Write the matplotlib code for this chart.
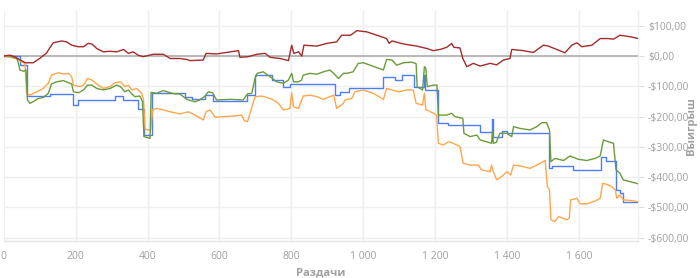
import matplotlib
matplotlib.use("Agg")
import matplotlib.pyplot as plt
from matplotlib.ticker import FuncFormatter

# hands played vs. winnings, four series
red_h = [0, 18, 30, 60, 82, 101, 119, 133, 138, 161, 175, 189, 208, 222, 235, 245, 259, 277, 296, 314,
         333, 347, 360, 374, 388, 416, 444, 463, 490, 509, 518, 555, 563, 592, 630, 653, 657, 680, 704, 727,
         741, 769, 792, 801, 807, 820, 829, 835, 871, 899, 926, 940, 965, 982, 1010, 1038, 1065, 1072, 1080, 1112,
         1149, 1177, 1195, 1214, 1232, 1246, 1252, 1269, 1277, 1288, 1306, 1325, 1353, 1371, 1390, 1408, 1413, 1445, 1473, 1501,
         1515, 1538, 1561, 1580, 1594, 1608, 1636, 1659, 1680, 1696, 1714, 1742, 1765]
red_v = [0, 3, -2, -22, -22, -7, 10, 36, 44, 50, 47, 36, 31, 31, 42, 40, 25, 14, 16, 14,
         22, 9, 14, 3, -2, 6, 6, -8, -8, -11, -15, -13, 9, 7, 14, 18, -4, -2, 6, 9,
         -4, -8, -15, 36, 9, 14, 0, 36, 33, 42, 47, 69, 69, 84, 80, 69, 58, 42, 50, 40,
         33, 25, 18, 22, 29, 42, 29, 27, -8, -35, -24, -33, -24, -29, -13, -8, 22, 18, 12, 36,
         33, 22, 11, 36, 44, 31, 36, 58, 58, 56, 69, 64, 58]

green_h = [0, 12, 36, 40, 45, 55, 62, 66, 73, 83, 96, 110, 124, 133, 147, 166, 180, 189, 194, 208,
           222, 233, 245, 259, 277, 296, 314, 325, 337, 347, 356, 365, 379, 386, 390, 407, 410, 425, 444, 463,
           476, 490, 509, 532, 545, 560, 569, 581, 592, 630, 666, 678, 690, 699, 705, 722, 741, 759, 778, 792,
           801, 806, 820, 828, 833, 852, 871, 889, 907, 918, 931, 945, 954, 972, 986, 1000, 1019, 1056, 1065, 1080,
           1093, 1112, 1135, 1147, 1150, 1165, 1170, 1174, 1178, 1195, 1205, 1209, 1232, 1246, 1255, 1277, 1280, 1297, 1316, 1325,
           1343, 1357, 1359, 1362, 1370, 1380, 1399, 1413, 1418, 1436, 1464, 1483, 1497, 1510, 1518, 1522, 1533, 1557, 1575, 1598,
           1622, 1645, 1659, 1668, 1682, 1696, 1703, 1714, 1723, 1742, 1765]
green_v = [0, 2, -8, -19, -46, -50, -46, -145, -156, -150, -140, -137, -123, -92, -85, -81, -88, -92, -118, -121,
           -112, -96, -96, -107, -112, -107, -96, -101, -118, -112, -125, -134, -132, -151, -266, -272, -120, -123, -114, -121,
           -125, -125, -143, -151, -145, -132, -118, -121, -145, -143, -145, -125, -123, -74, -57, -52, -68, -85, -90, -79,
           -57, -85, -85, -80, -63, -57, -60, -52, -46, -57, -74, -57, -57, -52, -24, -22, -30, -46, -11, -13,
           -30, -22, -20, -25, -101, -112, -35, -40, -101, -96, -96, -195, -195, -189, -200, -206, -255, -266, -261, -277,
           -283, -288, -250, -288, -285, -255, -255, -266, -233, -239, -244, -233, -220, -220, -244, -349, -338, -345, -330, -341,
           -345, -338, -330, -277, -283, -288, -376, -387, -409, -415, -422]

orange_h = [0, 36, 50, 59, 64, 73, 92, 110, 124, 133, 152, 166, 180, 189, 194, 212, 222, 233, 245, 263,
            277, 296, 310, 325, 337, 347, 356, 370, 384, 389, 393, 409, 414, 425, 444, 463, 490, 514, 532, 555,
            563, 574, 588, 611, 639, 662, 669, 678, 685, 699, 718, 736, 750, 764, 778, 796, 801, 806, 820, 833,
            852, 871, 889, 907, 918, 926, 945, 949, 968, 977, 1000, 1028, 1056, 1065, 1080, 1098, 1121, 1139, 1147, 1165,
            1170, 1174, 1178, 1195, 1204, 1209, 1223, 1237, 1250, 1269, 1278, 1297, 1320, 1329, 1353, 1357, 1362, 1371, 1385, 1399,
            1410, 1418, 1436, 1464, 1483, 1506, 1512, 1518, 1522, 1533, 1543, 1566, 1573, 1577, 1594, 1603, 1622, 1645, 1659, 1666,
            1677, 1691, 1701, 1705, 1714, 1723, 1742, 1765]
orange_v = [0, -8, -19, -24, -123, -129, -118, -107, -90, -63, -55, -59, -57, -68, -96, -101, -96, -74, -79, -96,
            -107, -101, -88, -85, -101, -96, -112, -107, -123, -145, -242, -245, -178, -173, -178, -184, -191, -184, -195, -211,
            -184, -178, -202, -200, -198, -195, -213, -217, -189, -134, -132, -138, -145, -156, -178, -173, -121, -167, -173, -132,
            -129, -134, -143, -134, -129, -173, -156, -145, -140, -118, -112, -123, -143, -107, -112, -118, -112, -112, -156, -162,
            -123, -178, -178, -189, -195, -288, -294, -283, -288, -299, -354, -360, -360, -376, -382, -360, -382, -409, -398, -382,
            -393, -360, -363, -371, -360, -345, -431, -442, -541, -547, -530, -541, -536, -475, -470, -488, -488, -479, -470, -420,
            -424, -431, -442, -470, -459, -475, -477, -481]

# blue line is stepped: value holds until the next hand
blue_h = [0, 46, 64, 129, 192, 208, 310, 333, 374, 389, 412, 504, 525, 560, 583, 676, 699, 745, 778, 796,
          921, 935, 960, 1056, 1087, 1107, 1140, 1168, 1172, 1209, 1237, 1325, 1357, 1360, 1385, 1400, 1518, 1525, 1584, 1662,
          1675, 1704, 1715, 1723, 1765]
blue_v = [0, -30, -132, -125, -162, -145, -132, -145, -176, -261, -121, -136, -143, -129, -149, -129, -64, -79, -101, -92,
          -129, -118, -107, -68, -79, -63, -101, -63, -112, -220, -228, -250, -208, -266, -248, -255, -371, -363, -376, -334,
          -345, -442, -453, -481, -481]

x_ticks = [0, 200, 400, 600, 800, 1000, 1200, 1400, 1600]
y_ticks = [100, 0, -100, -200, -300, -400, -500, -600]

TXT = "#a0a0a0"
GRID = "#efefef"

plt.rcParams["font.family"] = ["Open Sans", "DejaVu Sans"]

W, H = 700, 278
fig = plt.figure(figsize=(W / 100, H / 100), dpi=100)
ax = fig.add_axes([3.7 / W, 1 - 241 / H, (638.3 - 3.7) / W, (241 - 11) / H])

ax.axhline(0, color="#b8b8b8", lw=1.4, zorder=1)
lw = 1.0
ax.plot(blue_h, blue_v, color="#4d7ef7", lw=lw, drawstyle="steps-post", zorder=3)
ax.plot(orange_h, orange_v, color="#ffa64d", lw=lw, zorder=3)
ax.plot(green_h, green_v, color="#6a9b3a", lw=lw, zorder=4)
ax.plot(red_h, red_v, color="#a52a2a", lw=lw, zorder=5)

ax.set_xlim(0, 1765)
ax.set_ylim(-611, 149)
ax.set_xticks(x_ticks)
ax.set_yticks(y_ticks)


def fmt_x(v, _):
    return f"{int(v):,}".replace(",", " ")


def fmt_y(v, _):
    s = f"${abs(v):.2f}".replace(".", ",")
    return "-" + s if v < 0 else s


ax.xaxis.set_major_formatter(FuncFormatter(fmt_x))
ax.yaxis.set_major_formatter(FuncFormatter(fmt_y))
ax.yaxis.tick_right()
ax.tick_params(axis="y", length=4, color="#dddddd", pad=3, labelsize=7.5, labelcolor=TXT)
ax.tick_params(axis="x", length=0, pad=7, labelsize=7.5, labelcolor=TXT)
ax.grid(True, color=GRID, lw=1.0, zorder=0)
ax.set_axisbelow(True)
for name in ("left", "top"):
    ax.spines[name].set_visible(False)
ax.spines["right"].set_color(GRID)
ax.spines["bottom"].set_color("#e4e4e4")
ax.spines["bottom"].set_linewidth(1.0)
ax.spines["right"].set_linewidth(1.0)

fig.text(321 / W, 1 - 273 / H, "Раздачи", ha="center", va="center", fontsize=8, color=TXT, fontweight="bold")
fig.text(692 / W, 1 - 126 / H, "Выигрыш", ha="center", va="center", rotation=90, fontsize=8, color=TXT,
         fontweight="bold")

fig.savefig("out.png", dpi=100)
